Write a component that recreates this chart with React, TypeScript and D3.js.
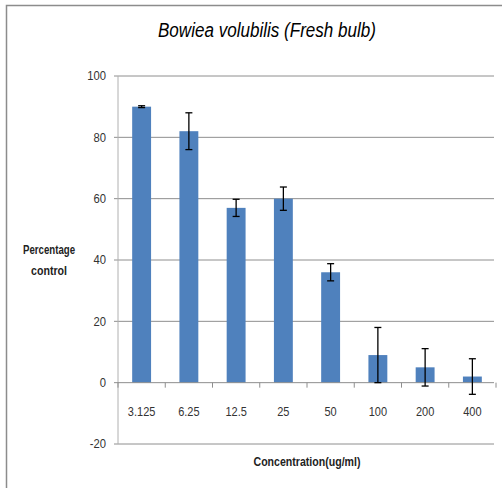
import React from "react";
import * as d3 from "d3";

const categories = ["3.125", "6.25", "12.5", "25", "50", "100", "200", "400"];
const values = [90, 82, 57, 60, 36, 9, 5, 2];
const errors = [0.3, 6, 2.8, 3.8, 2.8, 9, 6.1, 5.8];
const yTicks = [-20, 0, 20, 40, 60, 80, 100];

const W = 502;
const H = 488;
const FONT = "'Liberation Sans', Arial, sans-serif";

export default function App() {
  const x = d3.scaleBand<string>().domain(categories).range([118, 496]).paddingInner(0.6).paddingOuter(0.3);
  const y = d3.scaleLinear().domain([-20, 100]).range([444, 76]);
  const bw = x.bandwidth();
  const step = x.step();
  const x0 = 118;

  return (
    <svg width={W} height={H} style={{ position: "absolute", left: 0, top: 0 }}>
      <rect width={W} height={H} fill="#fff" />
      {/* chart frame */}
      <path d={`M6.5,${H} V5.5 H${W}`} fill="none" stroke="#8c8c8c" strokeWidth={1.5} />

      <text x={267} y={37} textAnchor="middle" fontFamily={FONT} fontStyle="italic" fontSize={20} fill="#000"
        textLength={218} lengthAdjust="spacingAndGlyphs">
        Bowiea volubilis (Fresh bulb)
      </text>

      {/* gridlines */}
      {yTicks.filter((t) => t !== 0).map((t) => (
        <line key={t} x1={114} x2={494} y1={y(t)} y2={y(t)} stroke="#8e8e8e" strokeWidth={1} />
      ))}
      {/* y axis */}
      <line x1={x0} x2={x0} y1={y(100)} y2={y(-20)} stroke="#b0b0b0" strokeWidth={1} />
      {yTicks.map((t) => (
        <text key={t} x={106} y={y(t) + 4.5} textAnchor="end" fontFamily={FONT} fontSize={12.5} fill="#333"
          transform={`translate(106,0) scale(0.9,1) translate(-106,0)`}>
          {t}
        </text>
      ))}

      {/* bars */}
      {categories.map((c, i) => (
        <rect key={c} x={x(c)} y={y(values[i])} width={bw} height={y(0) - y(values[i])} fill="#4f81bd" />
      ))}

      {/* zero line with category ticks */}
      <line x1={114} x2={494} y1={y(0)} y2={y(0)} stroke="#8e8e8e" strokeWidth={1} />
      {d3.range(categories.length + 1).map((i) => (
        <line key={i} x1={x0 + i * step} x2={x0 + i * step} y1={y(0)} y2={y(0) + 5} stroke="#8e8e8e" strokeWidth={1} />
      ))}

      {/* error bars */}
      {categories.map((c, i) => {
        const cx = (x(c) as number) + bw / 2;
        const top = y(values[i] + errors[i]);
        const bot = y(values[i] - errors[i]);
        return (
          <g key={c} stroke="#000" strokeWidth={1.3}>
            <line x1={cx} x2={cx} y1={top} y2={bot} />
            <line x1={cx - 3.5} x2={cx + 3.5} y1={top} y2={top} />
            <line x1={cx - 3.5} x2={cx + 3.5} y1={bot} y2={bot} />
          </g>
        );
      })}

      {/* category labels */}
      {categories.map((c) => {
        const cx = (x(c) as number) + bw / 2;
        return (
          <text key={c} x={cx} y={416} textAnchor="middle" fontFamily={FONT} fontSize={12.5} fill="#333"
            transform={`translate(${cx},0) scale(0.88,1) translate(${-cx},0)`}>
            {c}
          </text>
        );
      })}

      <text x={307} y={466} textAnchor="middle" fontFamily={FONT} fontWeight="bold" fontSize={13.5} fill="#222"
        textLength={107} lengthAdjust="spacingAndGlyphs">
        Concentration(ug/ml)
      </text>
      <text textAnchor="middle" fontFamily={FONT} fontWeight="bold" fontSize={13.5} fill="#222">
        <tspan x={49} y={254} textLength={52} lengthAdjust="spacingAndGlyphs">Percentage</tspan>
        <tspan x={49} y={275} textLength={36} lengthAdjust="spacingAndGlyphs">control</tspan>
      </text>
    </svg>
  );
}
